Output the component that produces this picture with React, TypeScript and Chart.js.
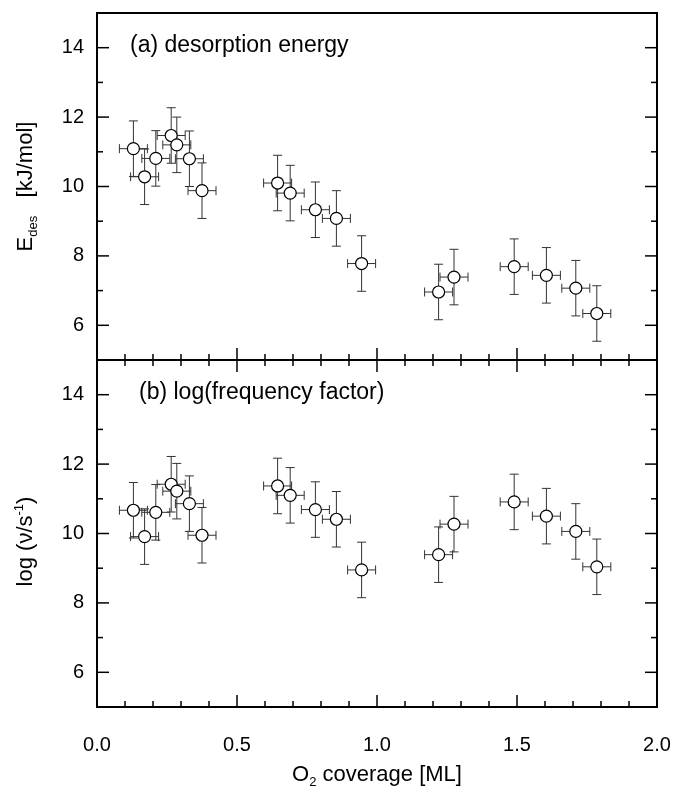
import React, { useEffect, useRef } from 'react';
import { Chart, registerables } from 'chart.js';

Chart.register(...registerables);

// ---- data ----
const coverage = [0.13, 0.17, 0.21, 0.265, 0.285, 0.33, 0.375, 0.645, 0.69, 0.78, 0.855, 0.945, 1.22, 1.275, 1.49, 1.605, 1.71, 1.785];
const coverageErr = [0.05, 0.05, 0.05, 0.05, 0.05, 0.05, 0.05, 0.05, 0.05, 0.05, 0.05, 0.05, 0.05, 0.05, 0.05, 0.05, 0.05, 0.05];
const desorptionEnergy = [11.09, 10.28, 10.81, 11.47, 11.2, 10.8, 9.88, 10.1, 9.81, 9.33, 9.08, 7.78, 6.96, 7.39, 7.69, 7.44, 7.07, 6.34];
const desorptionEnergyErr = [0.8, 0.8, 0.8, 0.8, 0.8, 0.8, 0.8, 0.8, 0.8, 0.8, 0.8, 0.8, 0.8, 0.8, 0.8, 0.8, 0.8, 0.8];
const logFrequency = [10.67, 9.91, 10.61, 11.42, 11.22, 10.86, 9.95, 11.37, 11.1, 10.69, 10.41, 8.95, 9.39, 10.27, 10.91, 10.5, 10.06, 9.04];
const logFrequencyErr = [0.8, 0.8, 0.8, 0.8, 0.8, 0.8, 0.8, 0.8, 0.8, 0.8, 0.8, 0.8, 0.8, 0.8, 0.8, 0.8, 0.8, 0.8];

// ---- axes ----
const X_MIN = 0;
const X_MAX = 2;
const X_MAJOR = 0.5;
const X_MINOR_COUNT = 20; // minor ticks every 0.1
const Y_MIN = 5;
const Y_MAX = 15;
const Y_MAJOR = 2;
const Y_MINOR = 1;

const FONT = '"Liberation Sans", Arial, Helvetica, sans-serif';

const panelLabelA = '(a) desorption energy';
const panelLabelB = '(b) log(frequency factor)';

function line(ctx: CanvasRenderingContext2D, x1: number, y1: number, x2: number, y2: number) {
  ctx.beginPath();
  ctx.moveTo(x1, y1);
  ctx.lineTo(x2, y2);
  ctx.stroke();
}

type Part = { text: string; size: number; dy: number };

function partsWidth(ctx: CanvasRenderingContext2D, parts: Part[]) {
  let w = 0;
  parts.forEach((p) => {
    ctx.font = `${p.size}px ${FONT}`;
    w += ctx.measureText(p.text).width;
  });
  return w;
}

function drawParts(ctx: CanvasRenderingContext2D, parts: Part[], startX: number, baseY: number) {
  let x = startX;
  parts.forEach((p) => {
    ctx.font = `${p.size}px ${FONT}`;
    ctx.fillText(p.text, x, baseY + p.dy);
    x += ctx.measureText(p.text).width;
  });
}

const decorPlugin = {
  id: 'decor',
  beforeDatasetsDraw(chart: any) {
    const { ctx, scales } = chart;
    const xs = scales.x;
    const panels = [scales.yA, scales.yB];
    const left = xs.left;
    const right = xs.right;
    ctx.save();
    ctx.strokeStyle = '#000';

    // ticks
    ctx.lineWidth = 1.5;
    panels.forEach((p: any, idx: number) => {
      const nY = Math.round((Y_MAX - Y_MIN) / Y_MINOR);
      for (let i = 1; i < nY; i++) {
        const v = Y_MIN + i * Y_MINOR;
        const py = p.getPixelForValue(v);
        const len = v % Y_MAJOR === 0 ? 12 : 6;
        line(ctx, left, py, left + len, py);
        line(ctx, right, py, right - len, py);
      }
      for (let i = 1; i < X_MINOR_COUNT; i++) {
        const v = X_MIN + (i * (X_MAX - X_MIN)) / X_MINOR_COUNT;
        const px = xs.getPixelForValue(v);
        const isMajor = Math.abs(v / X_MAJOR - Math.round(v / X_MAJOR)) < 1e-6;
        const len = isMajor ? 12 : 6;
        line(ctx, px, p.bottom, px, p.bottom - len);
        if (idx === 1) line(ctx, px, p.top, px, p.top + len);
      }
    });

    // frames
    ctx.lineWidth = 2;
    panels.forEach((p: any) => {
      ctx.strokeRect(left, p.top, right - left, p.bottom - p.top);
    });

    // error bars
    ctx.strokeStyle = '#333';
    ctx.lineWidth = 1;
    const cap = 4.5;
    chart.data.datasets.forEach((ds: any) => {
      const ys = scales[ds.yAxisID];
      ds.data.forEach((pt: any, i: number) => {
        const cx = xs.getPixelForValue(pt.x);
        const cy = ys.getPixelForValue(pt.y);
        const x1 = xs.getPixelForValue(pt.x - ds.xErr[i]);
        const x2 = xs.getPixelForValue(pt.x + ds.xErr[i]);
        const y1 = ys.getPixelForValue(pt.y - ds.yErr[i]);
        const y2 = ys.getPixelForValue(pt.y + ds.yErr[i]);
        line(ctx, x1, cy, x2, cy);
        line(ctx, cx, y1, cx, y2);
        line(ctx, x1, cy - cap, x1, cy + cap);
        line(ctx, x2, cy - cap, x2, cy + cap);
        line(ctx, cx - cap, y1, cx + cap, y1);
        line(ctx, cx - cap, y2, cx + cap, y2);
      });
    });
    ctx.restore();
  },
  afterDraw(chart: any) {
    const { ctx, scales } = chart;
    const xs = scales.x;
    const yA = scales.yA;
    const yB = scales.yB;
    ctx.save();
    ctx.fillStyle = '#000';
    ctx.textBaseline = 'alphabetic';
    ctx.textAlign = 'left';

    // panel labels
    ctx.font = `23px ${FONT}`;
    ctx.fillText(panelLabelA, xs.left + 33, yA.top + 38.5);
    ctx.fillText(panelLabelB, xs.left + 42, yB.top + 39);

    // x title
    const xParts: Part[] = [
      { text: 'O', size: 22, dy: 0 },
      { text: '2', size: 13, dy: 5 },
      { text: ' coverage [ML]', size: 22, dy: 0 },
    ];
    const xw = partsWidth(ctx, xParts);
    drawParts(ctx, xParts, (xs.left + xs.right) / 2 - xw / 2, 781);

    // y titles (rotated)
    const yTitle = (parts: Part[], cx: number, cy: number) => {
      ctx.save();
      ctx.translate(cx, cy);
      ctx.rotate(-Math.PI / 2);
      const w = partsWidth(ctx, parts);
      drawParts(ctx, parts, -w / 2, 0);
      ctx.restore();
    };
    yTitle(
      [
        { text: 'E', size: 22, dy: 0 },
        { text: 'des', size: 13, dy: 5 },
        { text: '   [kJ/mol]', size: 22, dy: 0 },
      ],
      32,
      (yA.top + yA.bottom) / 2
    );
    yTitle(
      [
        { text: 'log (\u03BD/s', size: 22, dy: 0 },
        { text: '-1', size: 13, dy: -9 },
        { text: ')', size: 22, dy: 0 },
      ],
      32,
      (yB.top + yB.bottom) / 2 + 8
    );
    ctx.restore();
  },
};

export default function App() {
  const ref = useRef<HTMLCanvasElement | null>(null);
  useEffect(() => {
    if (!ref.current) return;
    const yScale = (stackWeight: number) => ({
      type: 'linear' as const,
      position: 'left' as const,
      stack: 'panels',
      stackWeight,
      min: Y_MIN,
      max: Y_MAX,
      offset: false,
      grid: { display: false, drawTicks: false },
      border: { display: false },
      ticks: {
        stepSize: Y_MINOR,
        autoSkip: false,
        padding: 13,
        color: '#000',
        font: { family: FONT, size: 20 },
        callback: (v: any) => (Number(v) % Y_MAJOR === 0 ? String(v) : ''),
      },
      afterFit: (s: any) => {
        s.width = 89;
        s.paddingTop = 0;
        s.paddingBottom = 0;
      },
    });
    const pointStyle = {
      pointRadius: 6,
      pointHoverRadius: 6,
      pointBackgroundColor: '#fff',
      pointBorderColor: '#000',
      pointBorderWidth: 1.2,
      showLine: false,
    };
    const chart = new Chart(ref.current, {
      type: 'scatter',
      data: {
        datasets: [
          {
            label: 'Edes',
            yAxisID: 'yA',
            data: coverage.map((x, i) => ({ x, y: desorptionEnergy[i] })),
            xErr: coverageErr,
            yErr: desorptionEnergyErr,
            ...pointStyle,
          } as any,
          {
            label: 'log nu',
            yAxisID: 'yB',
            data: coverage.map((x, i) => ({ x, y: logFrequency[i] })),
            xErr: coverageErr,
            yErr: logFrequencyErr,
            ...pointStyle,
          } as any,
        ],
      },
      options: {
        responsive: false,
        animation: false,
        devicePixelRatio: 1,
        layout: { padding: { left: 8, right: 17, top: 13, bottom: 0 } },
        plugins: { legend: { display: false }, tooltip: { enabled: false } },
        scales: {
          x: {
            type: 'linear',
            position: 'bottom',
            min: X_MIN,
            max: X_MAX,
            grid: { display: false, drawTicks: false },
            border: { display: false },
            ticks: {
              stepSize: X_MAJOR,
              padding: 26,
              color: '#000',
              font: { family: FONT, size: 20 },
              callback: (v: any) => Number(v).toFixed(1),
            },
            afterFit: (s: any) => {
              s.height = 80;
              s.paddingLeft = 0;
              s.paddingRight = 0;
            },
          },
          // stacked panels: the first listed is placed at the bottom
          yB: yScale(1),
          yA: yScale(1),
        } as any,
      },
      plugins: [decorPlugin],
    });
    return () => chart.destroy();
  }, []);
  return (
    <div style={{ position: 'fixed', left: 0, top: 0, width: 674, height: 787, background: '#fff' }}>
      <canvas ref={ref} width={674} height={787} style={{ display: 'block' }} />
    </div>
  );
}
